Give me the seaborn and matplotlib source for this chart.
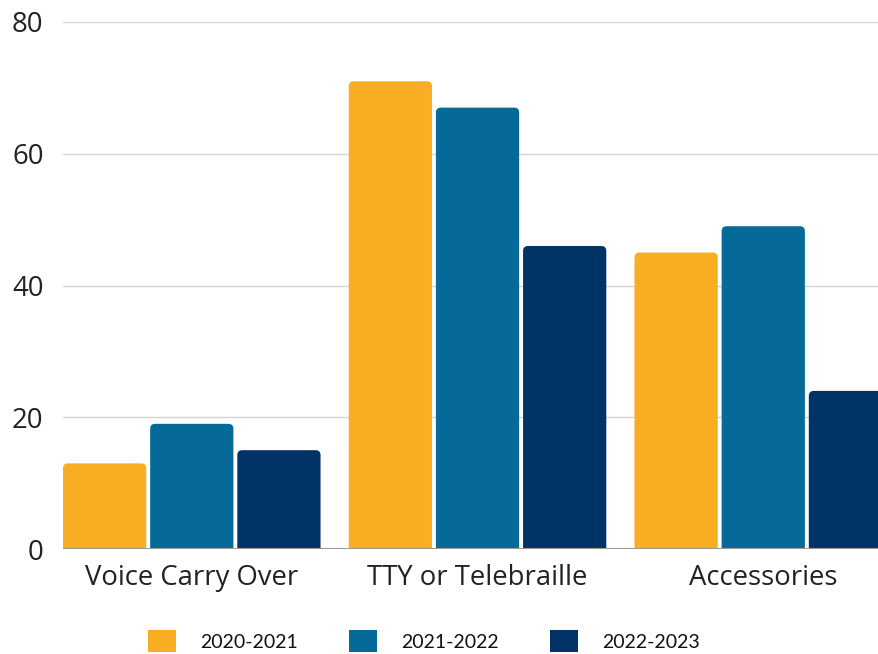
import numpy as np
import pandas as pd
import seaborn as sns
import matplotlib.pyplot as plt
from matplotlib.path import Path
from matplotlib.patches import PathPatch, Patch

categories = ["Voice Carry Over", "TTY or Telebraille", "Accessories"]
years = ["2020-2021", "2021-2022", "2022-2023"]
v_2020_2021 = [13, 71, 45]
v_2021_2022 = [19, 67, 49]
v_2022_2023 = [15, 46, 24]
colors = ["#F9AD23", "#066A99", "#023366"]
yticks = [0, 20, 40, 60, 80]

df = pd.DataFrame({
    "Category": categories * 3,
    "Year": np.repeat(years, len(categories)),
    "Value": v_2020_2021 + v_2021_2022 + v_2022_2023,
})

sns.set_theme(style="white")
plt.rcParams["font.family"] = ["Open Sans", "DejaVu Sans"]
plt.rcParams["font.weight"] = "normal"

W, H = 879, 654
fig = plt.figure(figsize=(W / 100, H / 100), dpi=100)
ax_l, ax_b, ax_w, ax_h = 63, 105, 816, 527
ax = fig.add_axes([ax_l / W, ax_b / H, ax_w / W, ax_h / H])

width = 0.915
gap = 0.045
sns.barplot(data=df, x="Category", y="Value", hue="Year", palette=colors,
            saturation=1, width=width, gap=gap, linewidth=0, ax=ax,
            legend=False, zorder=2)

slot = width / 3
x_left = -width / 2 + slot * gap / 2
step_px = 285.75
x_right = x_left + ax_w / step_px
ax.set_xlim(x_left, x_right)
ax.set_ylim(0, 80)

# rounded top corners
px_x = ax_w / (x_right - x_left)
px_y = ax_h / 80
r_px = 5
rx, ry = r_px / px_x, r_px / px_y
rects = list(ax.patches)
for p in rects:
    x, y = p.get_x(), p.get_y()
    w, h = p.get_width(), p.get_height()
    fc = p.get_facecolor()
    p.remove()
    verts = [(x, y), (x, y + h - ry), (x, y + h), (x + rx, y + h),
             (x + w - rx, y + h), (x + w, y + h), (x + w, y + h - ry),
             (x + w, y), (x, y)]
    codes = [Path.MOVETO, Path.LINETO, Path.CURVE3, Path.CURVE3,
             Path.LINETO, Path.CURVE3, Path.CURVE3, Path.LINETO, Path.CLOSEPOLY]
    ax.add_patch(PathPatch(Path(verts, codes), facecolor=fc, edgecolor="none",
                           lw=0, zorder=2))

ax.set_yticks(yticks)
ax.set_yticklabels([str(t) for t in yticks])
ax.yaxis.grid(True, color="#d4d4d4", lw=1)
ax.xaxis.grid(False)
ax.set_axisbelow(True)
ax.axhline(0, color="#9a9a9a", lw=1.5, zorder=3)
for s in ax.spines.values():
    s.set_visible(False)
ax.set_xlabel("")
ax.set_ylabel("")
ax.tick_params(axis="y", length=0, pad=14, labelsize=19.8, labelcolor="#222222")
ax.tick_params(axis="x", length=0, pad=11, labelsize=19.8, labelcolor="#222222")

handles = [Patch(facecolor=c, edgecolor="none") for c in colors]
fig.legend(handles, years, loc="center", bbox_to_anchor=(424 / W, 13 / H),
           ncol=3, frameon=False,
           prop={"family": ["Lato", "DejaVu Sans"], "size": 14, "weight": "normal"},
           handlelength=1.44, handleheight=1.3, handletextpad=1.24,
           columnspacing=2.62, borderaxespad=0, borderpad=0, labelcolor="#111111")

fig.savefig("out.png", dpi=100)
